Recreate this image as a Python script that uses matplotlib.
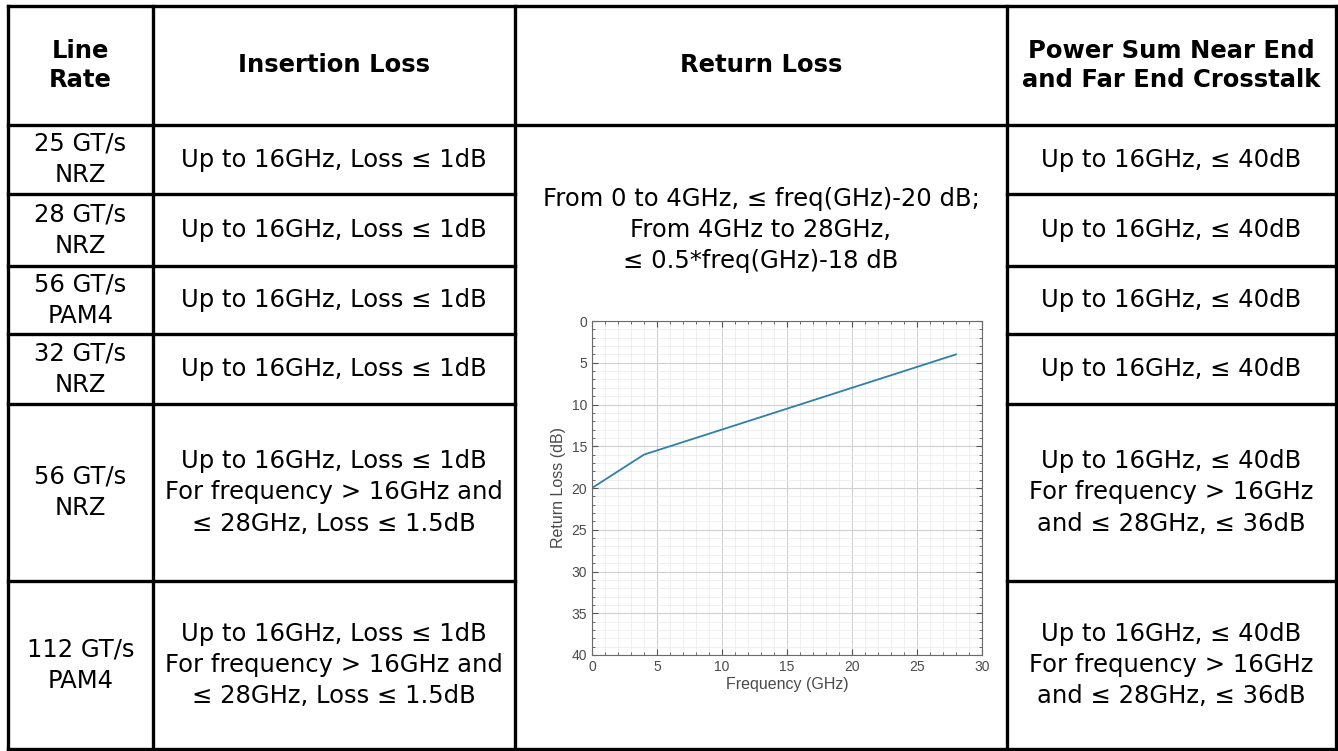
import matplotlib
matplotlib.use("Agg")
import matplotlib.pyplot as plt
from matplotlib.ticker import MultipleLocator

# ---------------- data ----------------
headers = ["Line\nRate", "Insertion Loss", "Return Loss",
           "Power Sum Near End\nand Far End Crosstalk"]
line_rates = ["25 GT/s\nNRZ", "28 GT/s\nNRZ", "56 GT/s\nPAM4",
              "32 GT/s\nNRZ", "56 GT/s\nNRZ", "112 GT/s\nPAM4"]
insertion_loss = ["Up to 16GHz, Loss ≤ 1dB"] * 4 + [
    "Up to 16GHz, Loss ≤ 1dB\nFor frequency > 16GHz and\n≤ 28GHz, Loss ≤ 1.5dB"] * 2
crosstalk = ["Up to 16GHz, ≤ 40dB"] * 4 + [
    "Up to 16GHz, ≤ 40dB\nFor frequency > 16GHz\nand ≤ 28GHz, ≤ 36dB"] * 2
return_loss_text = ("From 0 to 4GHz, ≤ freq(GHz)-20 dB;\nFrom 4GHz to 28GHz,\n"
                    "≤ 0.5*freq(GHz)-18 dB")
freq_ghz = [0, 4, 28]
return_loss_db = [20, 16, 4]
x_ticks = [0, 5, 10, 15, 20, 25, 30]
y_ticks = [0, 5, 10, 15, 20, 25, 30, 35, 40]

# ---------------- layout ----------------
W, H = 1338, 751
col_x = [8, 153, 515, 1007, 1336]
row_y = [6, 125, 194, 266, 334, 404, 581, 749]
FONT = ["DejaVu Sans"]
FS = 17.5
LS = 1.38
LW = 2.4

fig = plt.figure(figsize=(W / 100, H / 100), dpi=100)
ax = fig.add_axes([0, 0, 1, 1])
ax.set_xlim(0, W)
ax.set_ylim(H, 0)
ax.axis("off")

# column lines
for x in col_x:
    ax.plot([x, x], [row_y[0], row_y[-1]], color="black", lw=LW,
            solid_capstyle="projecting")
# row lines (not crossing the merged Return Loss cell)
for j, y in enumerate(row_y):
    if j in (0, 1, len(row_y) - 1):
        ax.plot([col_x[0], col_x[-1]], [y, y], color="black", lw=LW,
                solid_capstyle="projecting")
    else:
        ax.plot([col_x[0], col_x[2]], [y, y], color="black", lw=LW,
                solid_capstyle="projecting")
        ax.plot([col_x[3], col_x[4]], [y, y], color="black", lw=LW,
                solid_capstyle="projecting")

def cx(i):
    return (col_x[i] + col_x[i + 1]) / 2

def cy(j):
    return (row_y[j] + row_y[j + 1]) / 2

for i, h in enumerate(headers):
    ax.text(cx(i), cy(0), h, ha="center", va="center", fontsize=FS,
            fontweight="bold", family=FONT, linespacing=1.3)

for r in range(len(line_rates)):
    ax.text(cx(0), cy(r + 1), line_rates[r], ha="center", va="center",
            fontsize=FS, family=FONT, linespacing=LS)
    ax.text(cx(1), cy(r + 1), insertion_loss[r], ha="center", va="center",
            fontsize=FS, family=FONT, linespacing=LS)
    ax.text(cx(3), cy(r + 1), crosstalk[r], ha="center", va="center",
            fontsize=FS, family=FONT, linespacing=LS)

ax.text(cx(2), 230, return_loss_text, ha="center", va="center",
        fontsize=FS, family=FONT, linespacing=LS)

# ---------------- embedded chart ----------------
l, b, r, t = 592, 655, 982, 321
cax = fig.add_axes([l / W, 1 - b / H, (r - l) / W, (b - t) / H])
cax.plot(freq_ghz, return_loss_db, color="#2f7fa6", lw=1.3)
cax.set_xlim(0, 30)
cax.set_ylim(40, 0)
cax.set_xticks(x_ticks)
cax.set_yticks(y_ticks)
cax.xaxis.set_minor_locator(MultipleLocator(1))
cax.yaxis.set_minor_locator(MultipleLocator(1))
cax.grid(which="major", color="#d0d0d0", lw=0.8)
cax.grid(which="minor", color="#ececec", lw=0.6)
cax.set_axisbelow(True)
cax.tick_params(which="both", direction="in", top=True, right=True,
                colors="#555555", labelcolor="#4a4a4a", labelsize=10)
cax.tick_params(which="major", length=4)
cax.tick_params(which="minor", length=2)
for s in cax.spines.values():
    s.set_color("#6a6a6a")
    s.set_linewidth(0.8)
cax.set_xlabel("Frequency (GHz)", fontsize=11.5, color="#4a4a4a",
               family=["Liberation Sans"], labelpad=2)
cax.set_ylabel("Return Loss (dB)", fontsize=11.5, color="#4a4a4a",
               family=["Liberation Sans"], labelpad=4)
for lab in cax.get_xticklabels() + cax.get_yticklabels():
    lab.set_family(["Liberation Sans"])

fig.savefig("out.png", dpi=100)
